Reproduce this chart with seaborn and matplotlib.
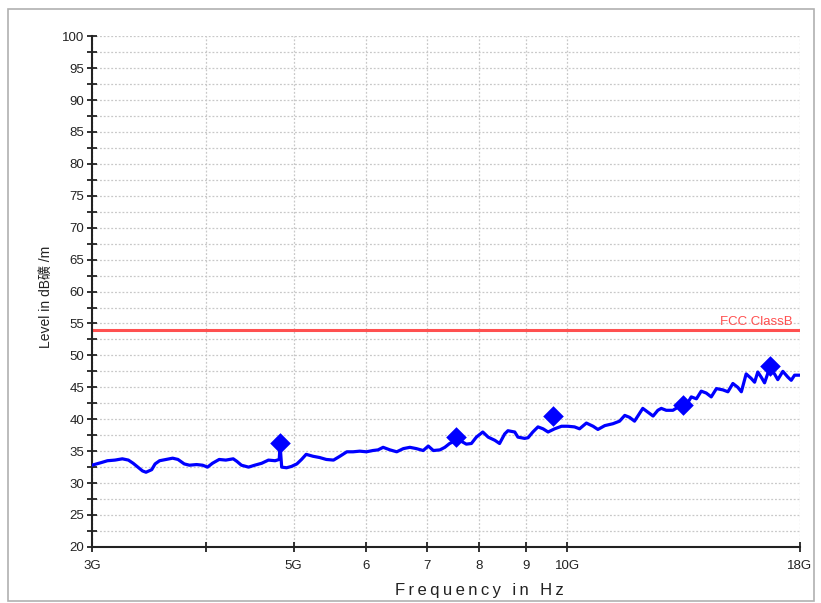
import matplotlib
matplotlib.use("Agg")
import matplotlib.pyplot as plt
import matplotlib.ticker as mticker
from matplotlib.patches import Rectangle
import seaborn as sns
import pandas as pd

# ---- data (frequency in GHz, level in dB) ----
trace_freq_ghz = [
    3.00, 3.07, 3.12, 3.18, 3.24, 3.29, 3.33, 3.37, 3.41, 3.44, 3.49, 3.52, 3.56, 3.62, 3.68,
    3.73, 3.79, 3.84, 3.91, 3.97, 4.02, 4.07, 4.14, 4.21, 4.29, 4.33, 4.38, 4.46, 4.53, 4.61,
    4.69, 4.77, 4.82, 4.83, 4.85, 4.91, 4.97, 5.04, 5.10, 5.16, 5.25, 5.34, 5.43, 5.53, 5.62,
    5.72, 5.81, 5.91, 6.01, 6.11, 6.19, 6.27, 6.38, 6.49, 6.60, 6.71, 6.82, 6.94, 7.03, 7.12,
    7.24, 7.33, 7.42, 7.52, 7.61, 7.74, 7.84, 7.94, 8.07, 8.18, 8.32, 8.42, 8.53, 8.60, 8.75,
    8.82, 8.97, 9.05, 9.16, 9.28, 9.40, 9.52, 9.68, 9.85, 10.01, 10.18, 10.31, 10.49, 10.67,
    10.80, 10.99, 11.22, 11.41, 11.56, 11.70, 11.85, 12.00, 12.10, 12.26, 12.42, 12.57, 12.68,
    12.84, 13.06, 13.23, 13.51, 13.68, 13.86, 14.03, 14.21, 14.39, 14.58, 14.82, 15.01, 15.20,
    15.39, 15.53, 15.72, 15.92, 16.06, 16.19, 16.33, 16.47, 16.68, 16.89, 17.03, 17.25, 17.47,
    17.62, 17.77, 17.96, 18.00,
]
trace_level_db = [
    32.8, 33.2, 33.5, 33.6, 33.8, 33.6, 33.1, 32.5, 31.9, 31.7, 32.1, 33.0, 33.5, 33.7, 33.9,
    33.7, 33.0, 32.8, 32.9, 32.8, 32.5, 33.1, 33.7, 33.6, 33.8, 33.4, 32.8, 32.5, 32.8, 33.1,
    33.6, 33.5, 33.7, 36.0, 32.5, 32.4, 32.6, 33.0, 33.7, 34.5, 34.2, 34.0, 33.7, 33.6, 34.2,
    34.9, 34.9, 35.0, 34.9, 35.1, 35.2, 35.6, 35.2, 34.9, 35.4, 35.6, 35.4, 35.1, 35.8, 35.1,
    35.2, 35.6, 36.2, 36.6, 36.7, 36.1, 36.2, 37.2, 38.0, 37.2, 36.7, 36.2, 37.7, 38.2, 38.0,
    37.2, 37.0, 37.1, 38.0, 38.8, 38.5, 38.0, 38.5, 38.9, 38.9, 38.8, 38.5, 39.4, 38.9,
    38.4, 39.0, 39.3, 39.7, 40.6, 40.3, 39.7, 40.9, 41.7, 41.1, 40.5, 41.4, 41.7,
    41.4, 41.4, 41.9, 42.2, 43.5, 43.2, 44.4, 44.1, 43.5, 44.8, 44.6, 44.3, 45.6,
    45.0, 44.3, 47.1, 46.4, 45.8, 47.4, 46.6, 45.7, 48.0, 47.1, 46.2, 47.5, 46.6,
    46.1, 46.9, 46.9, 46.9,
]
peak_freq_ghz = [4.83, 7.54, 9.64, 13.39, 16.68]
peak_level_db = [36.2, 37.2, 40.5, 42.2, 48.3]

limit_level_db = 54.0
limit_label = "FCC ClassB"

x_tick_values_ghz = [3, 4, 5, 6, 7, 8, 9, 10, 18]
x_tick_labels = ["3G", "", "5G", "6", "7", "8", "9", "10G", "18G"]

y_label = "Level in dB礦 /m"
x_label = "Frequency in Hz"

# ---- plotting ----
sns.set_style("white")
plt.rcParams["font.family"] = ["Liberation Sans", "Noto Sans CJK SC", "DejaVu Sans"]

fig = plt.figure(figsize=(8.21, 6.03), dpi=100)
ax = fig.add_axes([0.112, 0.093, 0.862, 0.847])

trace = pd.DataFrame({"freq": [f * 1e9 for f in trace_freq_ghz], "level": trace_level_db})
peaks = pd.DataFrame({"freq": [f * 1e9 for f in peak_freq_ghz], "level": peak_level_db})

ax.set_xscale("log")
ax.axhline(limit_level_db, color="#ff5050", lw=2.2, zorder=2)
sns.lineplot(data=trace, x="freq", y="level", ax=ax, color="#0000ff", lw=2.3,
             sort=False, zorder=3)
sns.scatterplot(data=peaks, x="freq", y="level", ax=ax, color="#0000ff", marker="D",
                s=110, edgecolor="#0000ff", linewidth=0, zorder=4)

ax.set_xlim(3e9, 18e9)
ax.set_ylim(20, 100)

ax.xaxis.set_major_locator(mticker.FixedLocator([v * 1e9 for v in x_tick_values_ghz]))
ax.xaxis.set_major_formatter(mticker.FixedFormatter(x_tick_labels))
ax.xaxis.set_minor_locator(mticker.NullLocator())
ax.yaxis.set_major_locator(mticker.MultipleLocator(5))
ax.yaxis.set_minor_locator(mticker.MultipleLocator(2.5))

ax.tick_params(axis="both", which="both", direction="inout", length=7, width=1.3,
               colors="#222222", labelsize=9.5, labelcolor="#222222",
               bottom=True, left=True, top=False, right=False)
ax.tick_params(axis="x", pad=6)
ax.tick_params(axis="y", pad=2)

ax.grid(True, which="both", axis="y", color="#c8c8c8", ls=(0, (1.5, 1.5)), lw=0.9)
ax.grid(True, which="major", axis="x", color="#c8c8c8", ls=(0, (1.5, 1.5)), lw=0.9)

for side in ("top", "right"):
    ax.spines[side].set_visible(False)
for side in ("left", "bottom"):
    ax.spines[side].set_color("#222222")
    ax.spines[side].set_linewidth(1.5)

spaced_x_label = "\u2009".join(x_label)
ax.set_xlabel(spaced_x_label, fontsize=12, color="#222222")
ax.xaxis.set_label_coords(0.548, -0.071)
ax.set_ylabel(y_label, fontsize=10, color="#222222")
ax.yaxis.set_label_coords(-0.055, 0.49)

ax.text(0.99, limit_level_db + 0.3, limit_label, transform=ax.get_yaxis_transform(),
        ha="right", va="bottom", color="#ff5050", fontsize=9.5)

fig.patches.append(Rectangle((8 / 821, 2 / 603), 806 / 821, 592 / 603,
                             transform=fig.transFigure, fill=False,
                             edgecolor="#b0b0b0", lw=1.2))

fig.savefig("out.png", dpi=100)
